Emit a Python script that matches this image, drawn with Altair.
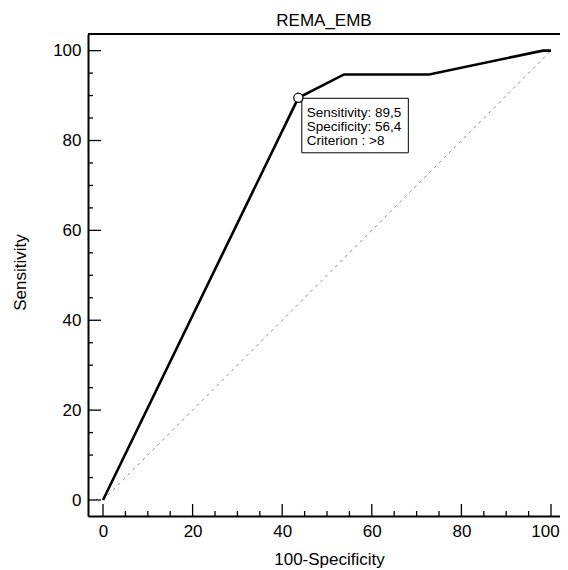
import altair as alt
import pandas as pd

# ROC curve data (100-Specificity, Sensitivity)
fpr = [0, 43.6, 53.8, 72.8, 98.2, 100]
sens = [0, 89.5, 94.7, 94.7, 100, 100]
diag_x = [0, 100]
diag_y = [0, 100]
major_ticks = [0, 20, 40, 60, 80, 100]
minor_ticks = [5, 10, 15, 25, 30, 35, 45, 50, 55, 65, 70, 75, 85, 90, 95]
crit_x = [43.6]
crit_y = [89.5]
info_lines = ["Sensitivity: 89,5", "Specificity: 56,4", "Criterion : >8"]
chart_title = "REMA_EMB"
x_title = "100-Specificity"
y_title = "Sensitivity"

W, H = 472, 482
FONT = "Liberation Sans"

roc = pd.DataFrame({"x": fpr, "y": sens, "o": range(len(fpr))})
diag = pd.DataFrame({"x": diag_x, "y": diag_y})
majors = pd.DataFrame({"t": major_ticks})
minors = pd.DataFrame({"t": minor_ticks})
crit = pd.DataFrame({"x": crit_x, "y": crit_y, "label": ["\n".join(info_lines)]})

xs = alt.Scale(domain=[-3.35, -3.35 + W / 4.48], nice=False, zero=False)
ys = alt.Scale(domain=[-3.56, 103.7], nice=False, zero=False)

x_axis = alt.Axis(values=major_ticks, ticks=False, grid=False, domainWidth=2,
                  domainColor="black", labelFont=FONT, labelFontSize=17,
                  labelColor="black", labelPadding=7,
                  labelOffset={"expr": "datum.value == 100 ? -6 : 0"},
                  title=x_title,
                  titleFont=FONT, titleFontSize=17, titleFontWeight="normal",
                  titleColor="black", titleX=241, titleY=43,
                  titleBaseline="middle")
y_axis = alt.Axis(values=major_ticks, ticks=False, grid=False, domainWidth=2,
                  domainColor="black", labelFont=FONT, labelFontSize=17,
                  labelColor="black", labelPadding=7, title=y_title,
                  titleFont=FONT, titleFontSize=17, titleFontWeight="normal",
                  titleColor="black", titleX=-68, titleY=238,
                  titleBaseline="middle")

base_x = alt.X("x:Q", scale=xs, axis=x_axis)
base_y = alt.Y("y:Q", scale=ys, axis=y_axis)

diag_layer = alt.Chart(diag).mark_line(color="#8a8a8a", strokeWidth=1,
                                       strokeDash=[3, 4]).encode(x=base_x, y=base_y)

roc_layer = alt.Chart(roc).mark_line(color="black", strokeWidth=2.6).encode(
    x=alt.X("x:Q", scale=xs), y=alt.Y("y:Q", scale=ys), order="o:Q")

xmaj = alt.Chart(majors).mark_rule(color="black", strokeWidth=1.3).encode(
    x=alt.X("t:Q", scale=xs), y=alt.value(H), y2=alt.value(H - 12))
xmin = alt.Chart(minors).mark_rule(color="black", strokeWidth=1.3).encode(
    x=alt.X("t:Q", scale=xs), y=alt.value(H), y2=alt.value(H - 5))
ymaj = alt.Chart(majors).mark_rule(color="black", strokeWidth=1.3).encode(
    y=alt.Y("t:Q", scale=ys), x=alt.value(0), x2=alt.value(13))
ymin = alt.Chart(minors).mark_rule(color="black", strokeWidth=1.3).encode(
    y=alt.Y("t:Q", scale=ys), x=alt.value(0), x2=alt.value(5))

top_border = alt.Chart(majors).mark_rule(color="black", strokeWidth=2).encode(
    x=alt.value(0), x2=alt.value(W), y=alt.value(0))

box = alt.Chart(crit).mark_rect(fill="white", stroke="black", strokeWidth=1,
                                xOffset=3.5, x2Offset=110, yOffset=0.5,
                                y2Offset=55).encode(
    x=alt.X("x:Q", scale=xs), x2="x", y=alt.Y("y:Q", scale=ys), y2="y")

txt = alt.Chart(crit).mark_text(align="left", baseline="top", dx=8.5, dy=8,
                                font=FONT, fontSize=13.5, lineHeight=14,
                                lineBreak="\n", color="black").encode(
    x=alt.X("x:Q", scale=xs), y=alt.Y("y:Q", scale=ys), text="label:N")

marker = alt.Chart(crit).mark_point(shape="circle", filled=True, fill="white",
                                    stroke="black", strokeWidth=1.2, size=85,
                                    opacity=1).encode(
    x=alt.X("x:Q", scale=xs), y=alt.Y("y:Q", scale=ys))

chart = alt.layer(diag_layer, roc_layer, xmaj, xmin, ymaj, ymin, top_border,
                  box, txt, marker).properties(
    width=W, height=H,
    title=alt.TitleParams(chart_title, font=FONT, fontSize=17,
                          fontWeight="normal", color="black", offset=3),
    autosize=alt.AutoSizeParams(type="none"),
    padding={"left": 80, "top": 26, "right": 0, "bottom": 54},
).configure_view(stroke=None).configure(background="white")

chart.save("out.html", embed_options={"renderer": "svg", "actions": False})
